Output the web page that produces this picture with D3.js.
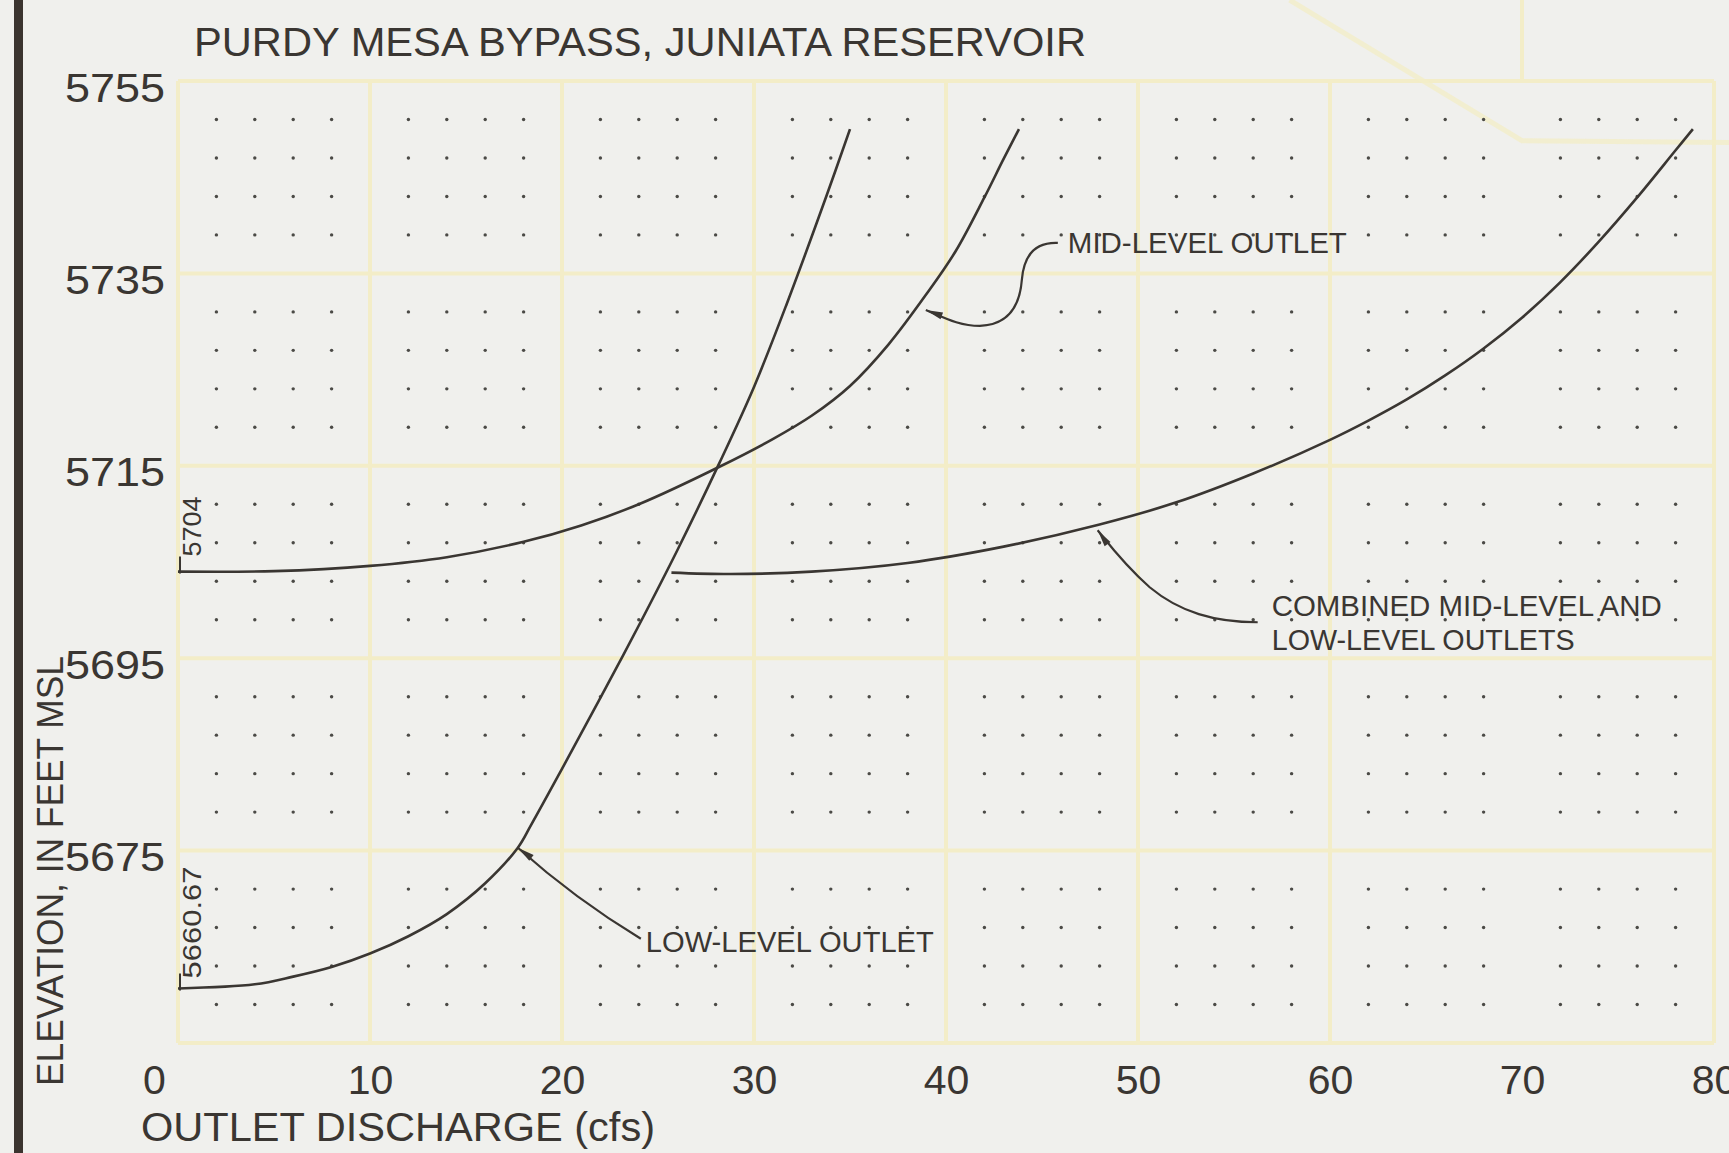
<!DOCTYPE html>
<html><head><meta charset="utf-8">
<script src="https://cdn.jsdelivr.net/npm/d3@7"></script>
<style>
html,body{margin:0;padding:0;background:#f0f0ed;}
svg{display:block;}
</style></head><body>
<svg id="chart" width="1729" height="1153"></svg>
<script>
// ---------- data ----------
const chartTitle = "PURDY MESA BYPASS, JUNIATA RESERVOIR";
const xAxisTitle = "OUTLET DISCHARGE (cfs)";
const yAxisTitle = "ELEVATION, IN FEET MSL";
const xTickValues = [0, 10, 20, 30, 40, 50, 60, 70, 80];
const yTickValues = [5675, 5695, 5715, 5735, 5755];

// Low-level outlet rating curve (discharge cfs, elevation ft)
const lowQ    = [0, 4, 6, 8, 10, 12, 14, 16, 17.7, 18.4, 20, 21.9, 24.0, 26.0, 28.2, 30.0, 31.7, 33.8, 35.0];
const lowElev = [5660.67, 5661.1, 5661.9, 5662.9, 5664.3, 5666.1, 5668.4, 5671.6, 5675.3, 5677.7, 5683.5, 5690.5, 5698.4, 5706.2, 5715.3, 5723.2, 5731.8, 5743.2, 5750.0];

// Mid-level outlet rating curve
const midQ    = [0, 5, 10, 14, 18, 21, 24, 28.2, 31, 33, 35, 37, 39, 40.5, 42, 43, 43.8];
const midElev = [5704.0, 5704.05, 5704.6, 5705.5, 5707.1, 5708.8, 5711.0, 5714.9, 5717.8, 5720.2, 5723.3, 5727.6, 5732.9, 5737.3, 5742.9, 5746.9, 5750.0];

// Combined mid-level and low-level outlets
const combQ    = [25.7, 28.8, 33.0, 38.0, 43.0, 48.0, 52.0, 56.0, 60.0, 62.0, 64.0, 66.0, 68.0, 70.0, 72.0, 74.0, 76.0, 78.0, 78.9];
const combElev = [5703.9, 5703.75, 5704.0, 5704.9, 5706.6, 5708.9, 5711.2, 5714.2, 5717.7, 5719.7, 5721.9, 5724.4, 5727.2, 5730.4, 5734.1, 5738.3, 5742.9, 5747.8, 5750.0];

const startLabels = ["5704", "5660.67"];
const annotationLow  = ["LOW-LEVEL OUTLET"];
const annotationMid  = ["MID-LEVEL OUTLET"];
const annotationComb = ["COMBINED MID-LEVEL AND", "LOW-LEVEL OUTLETS"];

// ---------- setup ----------
const W = 1729, H = 1153;
const INK = "#3a3632";
const GRID = "#f3edc8";
const svg = d3.select("#chart");

const x = d3.scaleLinear().domain([0, 80]).range([178, 1714]);
const y = d3.scaleLinear().domain([5655, 5755]).range([1043, 81]);

svg.append("rect").attr("width", W).attr("height", H).attr("fill", "#f0f0ed");
// left binding bar
svg.append("rect").attr("x", 14).attr("y", 0).attr("width", 9).attr("height", H).attr("fill", "#3b342f");

// ---------- grid ----------
const gGrid = svg.append("g").attr("stroke", GRID).attr("stroke-width", 4).attr("fill", "none");
gGrid.selectAll("line.v").data(xTickValues).join("line").attr("class", "v")
  .attr("x1", d => x(d)).attr("x2", d => x(d))
  .attr("y1", d => d === 70 ? 0 : y(5655)).attr("y2", y(5755));
gGrid.selectAll("line.h").data(d3.range(5655, 5756, 20)).join("line").attr("class", "h")
  .attr("x1", x(0)).attr("x2", x(80)).attr("y1", d => y(d)).attr("y2", d => y(d));
// faint artifact lines from an underlying drawing layer (top right)
gGrid.append("path").attr("stroke-width", 5).attr("opacity", 0.8)
  .attr("d", d3.line()([[x(57.9), 0], [x(70), y(5748.8)], [W, y(5748.6)]]));

// ---------- dot grid ----------
const dots = [];
d3.range(2, 80, 2).filter(v => v % 10 !== 0).forEach(qv => {
  d3.range(5655, 5756, 4).filter(e => (e - 5655) % 20 !== 0).forEach(ev => dots.push([qv, ev]));
});
svg.append("g").selectAll("circle").data(dots).join("circle")
  .attr("cx", d => x(d[0])).attr("cy", d => y(d[1])).attr("r", 1.7).attr("fill", "#4b4a46");

// ---------- curves ----------
const line = d3.line().x(d => x(d[0])).y(d => y(d[1])).curve(d3.curveCatmullRom.alpha(0.5));
const series = [
  d3.zip(lowQ, lowElev),
  d3.zip(midQ, midElev),
  d3.zip(combQ, combElev)
];
svg.append("g").selectAll("path").data(series).join("path")
  .attr("d", line).attr("fill", "none").attr("stroke", INK).attr("stroke-width", 2.6)
  .attr("stroke-linejoin", "round");

// small vertical start ticks at the curve starts on the axis
[[midQ[0], midElev[0]], [lowQ[0], lowElev[0]]].forEach(p => {
  svg.append("line").attr("x1", x(p[0]) + 2).attr("x2", x(p[0]) + 2)
    .attr("y1", y(p[1]) + 2).attr("y2", y(p[1]) - 15)
    .attr("stroke", INK).attr("stroke-width", 2);
});

// rotated start values
const NARROW = "'Liberation Sans Narrow', 'Liberation Sans', Arial, sans-serif";
[[startLabels[0], midElev[0], -15, 60], [startLabels[1], lowElev[0], -10, 112]].forEach(([t, e, off, len]) => {
  svg.append("text")
    .attr("transform", `translate(${x(0) + 23},${y(e) + off}) rotate(-90)`)
    .attr("font-family", NARROW).attr("font-size", 26).attr("fill", INK)
    .attr("textLength", len).attr("lengthAdjust", "spacingAndGlyphs")
    .text(t);
});

// ---------- leaders ----------
function arrowHead(tip, from) {
  const a = Math.atan2(tip[1] - from[1], tip[0] - from[0]);
  const L = 17, w = 3.6;
  const bx = tip[0] - L * Math.cos(a), by = tip[1] - L * Math.sin(a);
  const px = -Math.sin(a) * w, py = Math.cos(a) * w;
  svg.append("path")
    .attr("d", `M${tip[0]},${tip[1]}L${bx + px},${by + py}L${bx - px},${by - py}Z`)
    .attr("fill", INK);
}
function leader(tip, rel) {
  svg.append("path").attr("d", rel(tip[0], tip[1])).attr("fill", "none")
    .attr("stroke", INK).attr("stroke-width", 2.2);
}

// low-level
const tLow = [x(17.7), y(5675.3)];
leader(tLow, (a, b) => `M${a + 123},${b + 91}Q${a + 57},${b + 51} ${a},${b}`);
arrowHead(tLow, [tLow[0] + 16, tLow[1] + 12]);
// mid-level
const tMid = [x(38.95), y(5731.2)];
leader(tMid, (a, b) => `M${a + 132},${b - 67}C${a + 109},${b - 68} ${a + 98},${b - 55} ${a + 96},${b - 30}` +
  `C${a + 94},${b - 5} ${a + 84},${b + 15} ${a + 54},${b + 16}C${a + 34},${b + 16} ${a + 19},${b + 8} ${a},${b}`);
arrowHead(tMid, [tMid[0] + 19, tMid[1] + 7]);
// combined
const tComb = [x(47.9), y(5708.3)];
leader(tComb, (a, b) => `M${a + 160},${b + 92}C${a + 117},${b + 92} ${a + 82},${b + 82} ${a + 52},${b + 57}` +
  `C${a + 27},${b + 35} ${a + 12},${b + 15} ${a},${b}`);
arrowHead(tComb, [tComb[0] + 10, tComb[1] + 14]);

// ---------- annotation text ----------
function label(txt, px, py, size, len, family) {
  svg.append("text").attr("x", px).attr("y", py)
    .attr("font-family", family || NARROW).attr("font-size", size).attr("fill", INK)
    .attr("textLength", len).attr("lengthAdjust", "spacingAndGlyphs").text(txt);
}
label(annotationLow[0], tLow[0] + 128, tLow[1] + 104, 29, 288);
label(annotationMid[0], tMid[0] + 142, tMid[1] - 57, 29, 279);
label(annotationComb[0], tComb[0] + 174, tComb[1] + 86, 29, 390);
label(annotationComb[1], tComb[0] + 174, tComb[1] + 120, 29, 303);

// titles
label(chartTitle, 194, 56, 40, 892);
label(xAxisTitle, 141, 1141, 41, 514);
svg.append("text")
  .attr("transform", `translate(63,1086) rotate(-90)`)
  .attr("font-family", NARROW).attr("font-size", 37).attr("fill", INK)
  .attr("textLength", 430).attr("lengthAdjust", "spacingAndGlyphs")
  .text(yAxisTitle);

// ---------- axes ----------
const gy = svg.append("g").attr("transform", `translate(${x(0)},0)`)
  .call(d3.axisLeft(y).tickValues(yTickValues).tickSize(0).tickPadding(13).tickFormat(d3.format("d")));
gy.select(".domain").remove();
gy.selectAll("text").attr("dy", 0).attr("y", 20)
  .attr("font-family", "'Liberation Sans', Arial, sans-serif").attr("font-size", 41)
  .attr("fill", INK).attr("textLength", 100).attr("lengthAdjust", "spacingAndGlyphs");

const gx = svg.append("g").attr("transform", `translate(0,${y(5655)})`)
  .call(d3.axisBottom(x).tickValues(xTickValues).tickSize(0).tickFormat(d3.format("d")));
gx.select(".domain").remove();
gx.selectAll("text").attr("dy", 0).attr("y", 51)
  .attr("font-family", "'Liberation Sans', Arial, sans-serif").attr("font-size", 41)
  .attr("fill", INK)
  .attr("dx", d => d === 0 ? -24 : 0);
</script>
</body></html>
